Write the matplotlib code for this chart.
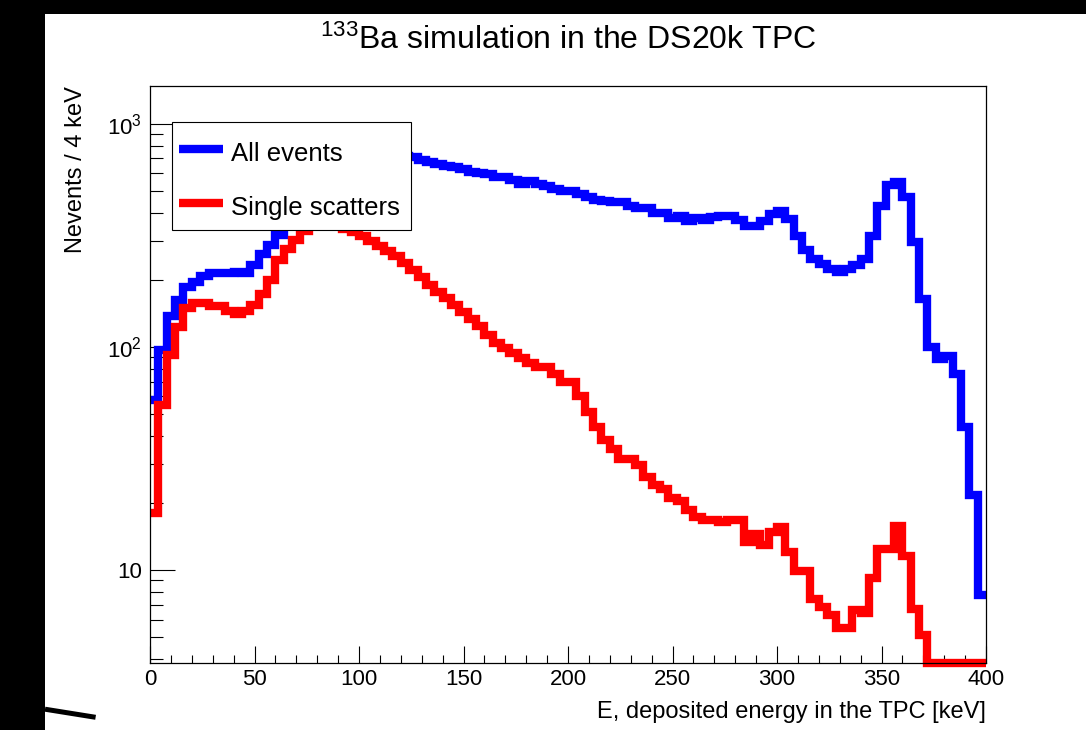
import numpy as np
import matplotlib
matplotlib.use("Agg")
import matplotlib.pyplot as plt
from matplotlib.ticker import MultipleLocator, LogLocator, FixedLocator, FixedFormatter, NullFormatter
from matplotlib.lines import Line2D
from matplotlib.patches import Rectangle

plt.rcParams['font.family'] = ['Liberation Sans', 'DejaVu Sans']
plt.rcParams['mathtext.fontset'] = 'custom'
plt.rcParams['mathtext.rm'] = 'Liberation Sans'
plt.rcParams['mathtext.it'] = 'Liberation Sans:italic'
plt.rcParams['mathtext.bf'] = 'Liberation Sans:bold'
plt.rcParams['mathtext.default'] = 'regular'

# ---------------- data ----------------
bin_width_kev = 4
energy_min, energy_max = 0, 400

all_events = [
    58, 97, 138, 163, 186, 196, 208, 215, 215, 215,
    217, 214, 233, 262, 287, 318, 355, 400, 450, 500,
    560, 610, 650, 680, 700, 715, 725, 728, 725, 720,
    715, 711, 690, 675, 660, 648, 640, 628, 610, 600,
    597, 576, 576, 561, 538, 555, 538, 527, 511, 500,
    500, 486, 471, 458, 449, 445, 445, 429, 420, 420,
    399, 399, 379, 387, 368, 379, 371, 383, 385, 385,
    371, 348, 348, 366, 393, 405, 375, 315, 272, 248,
    236, 224, 217, 224, 233, 248, 315, 429, 533, 550,
    471, 296, 164, 100, 88, 91, 76, 44, 21.6, 7.7,
]

single_scatters = [
    18, 55, 92, 123, 149, 158, 158, 153, 153, 145,
    141, 145, 155, 172, 200, 245, 276, 303, 330, 348,
    358, 360, 350, 338, 328, 315, 300, 285, 270, 255,
    238, 222, 206, 190, 177, 165, 155, 144, 133, 124,
    113, 104, 99, 94, 89, 85, 81, 81, 76, 70,
    70, 60, 51, 44, 38.4, 35, 31.5, 31.5, 29.5, 26,
    24, 23, 21, 20.3, 18.5, 17.2, 16.8, 16.8, 16.4, 16.8,
    16.8, 13.4, 14.5, 13.0, 14.8, 15.6, 12.1, 9.9, 9.9, 7.4,
    6.8, 6.3, 5.5, 5.5, 6.6, 6.4, 9.2, 12.4, 12.4, 15.8,
    11.5, 6.7, 5.1, 0, 0, 0, 0, 0, 0, 0,
]

series_labels = ["All events", "Single scatters"]
series_colors = ["#0000ff", "#ff0000"]
x_ticks = [0, 50, 100, 150, 200, 250, 300, 350, 400]
y_ticks = [10, 100, 1000]
y_tick_labels = ["10", "$10^{2}$", "$10^{3}$"]
title = r"$^{133}$Ba simulation in the DS20k TPC"
x_label = "E, deposited energy in the TPC [keV]"
y_label = "Nevents / 4 keV"
y_range = (3.83, 1479)

# ---------------- figure ----------------
W, H = 1086, 730
fig = plt.figure(figsize=(W / 100, H / 100), dpi=100)
fig.patch.set_facecolor("white")
ax = fig.add_axes([150 / W, 1 - 663 / H, (986 - 150) / W, (663 - 86) / H])
ax.set_yscale("log")
ax.set_xlim(energy_min, energy_max)
ax.set_ylim(*y_range)

edges = np.arange(energy_min, energy_max + bin_width_kev, bin_width_kev)
for vals, color in zip([all_events, single_scatters], series_colors):
    v = np.asarray(vals, dtype=float)
    v = np.where(v > 0, v, y_range[0])  # empty bins sit on the axis floor
    ax.stairs(v, edges, baseline=None, color=color, linewidth=6,
              joinstyle="miter", capstyle="butt", clip_on=False, zorder=2)

# ticks
ax.xaxis.set_major_locator(FixedLocator(x_ticks))
ax.xaxis.set_minor_locator(MultipleLocator(10))
ax.yaxis.set_major_locator(FixedLocator(y_ticks))
ax.yaxis.set_major_formatter(FixedFormatter(y_tick_labels))
ax.yaxis.set_minor_locator(LogLocator(base=10, subs=np.arange(2, 10), numticks=30))
ax.yaxis.set_minor_formatter(NullFormatter())
ax.tick_params(which="both", direction="in", top=False, right=False, color="black")
ax.tick_params(axis="x", which="major", length=12.5, width=0.8, pad=4.5, labelsize=16)
ax.tick_params(axis="x", which="minor", length=6, width=0.8)
ax.tick_params(axis="y", which="major", length=18, width=0.8, pad=6, labelsize=16)
ax.tick_params(axis="y", which="minor", length=9.5, width=0.8)
for s in ax.spines.values():
    s.set_linewidth(0.9)
    s.set_color("black")

ax.set_xlabel(x_label, fontsize=17, loc="right")
ax.xaxis.set_label_coords(1.0, -0.066)
ax.set_ylabel(y_label, fontsize=17, loc="top")
ax.yaxis.set_label_coords(-0.075, 1.0)

fig.text(568 / W, 1 - 49 / H, title, ha="center", va="baseline", fontsize=23)

# ---------------- legend (ROOT TLegend style box) ----------------
def fx(px):
    return px / W


def fy(py):
    return 1 - py / H


fig.add_artist(Rectangle((fx(172), fy(230)), fx(411) - fx(172), fy(122) - fy(230),
                         transform=fig.transFigure, facecolor="white",
                         edgecolor="black", linewidth=0.8, zorder=5))
for i, (lab, col) in enumerate(zip(series_labels, series_colors)):
    yline = 149 + 53.5 * i
    fig.add_artist(Line2D([fx(179), fx(223)], [fy(yline), fy(yline)],
                          transform=fig.transFigure, color=col, lw=6,
                          solid_capstyle="butt", zorder=6))
    fig.text(fx(231), fy(yline + 12), lab, fontsize=18.5, ha="left",
             va="baseline", zorder=6)

# black borders of the screenshot
fig.add_artist(Line2D([45 / W, 95.6 / W], [1 - 709.2 / H, 1 - 717.3 / H],
                      transform=fig.transFigure, color="black", lw=3.6,
                      solid_capstyle="butt", zorder=1))
fig.add_artist(Rectangle((0, 1 - 14 / H), 1, 14 / H, transform=fig.transFigure,
                         facecolor="black", edgecolor="none", zorder=2))
fig.add_artist(Rectangle((0, 0), 45 / W, 1, transform=fig.transFigure,
                         facecolor="black", edgecolor="none", zorder=2))

fig.savefig("out.png", dpi=100, facecolor="white")
